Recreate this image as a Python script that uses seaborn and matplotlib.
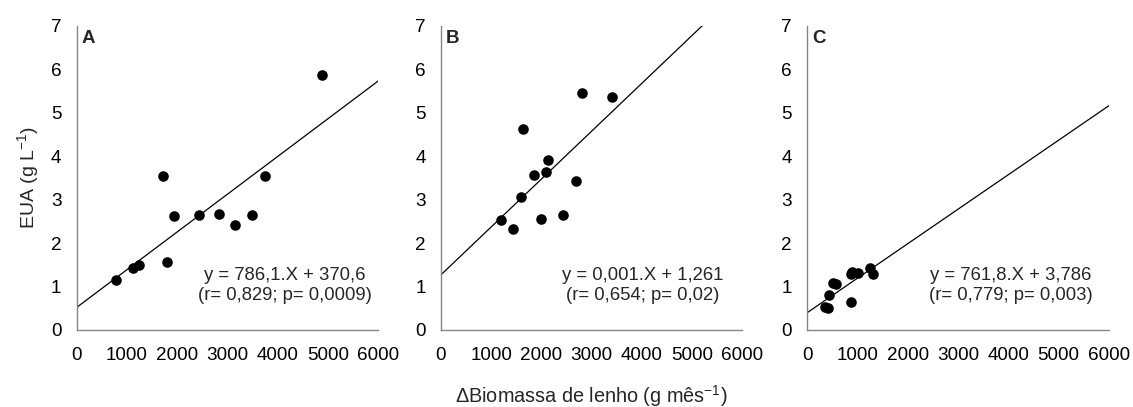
import numpy as np
import pandas as pd
import matplotlib
matplotlib.use("Agg")
import matplotlib.pyplot as plt
import seaborn as sns

# ---- data ----
panels = ["A", "B", "C"]

a_x = [776, 1114, 1246, 1724, 1797, 1943, 2433, 2831, 3149, 3494, 3746, 4880]
a_y = [1.15, 1.43, 1.50, 3.54, 1.56, 2.62, 2.64, 2.66, 2.42, 2.64, 3.54, 5.87]

b_x = [1200, 1425, 1598, 1631, 1856, 1989, 2088, 2135, 2420, 2692, 2811, 3408]
b_y = [2.53, 2.32, 3.05, 4.62, 3.57, 2.56, 3.63, 3.90, 2.65, 3.42, 5.46, 5.35]

c_x = [352, 405, 437, 505, 570, 863, 883, 860, 1014, 1247, 1300]
c_y = [0.52, 0.51, 0.80, 1.07, 1.05, 0.64, 1.34, 1.29, 1.30, 1.42, 1.28]

# fitted line (intercept, slope) as drawn in the reference
a_line = (0.52, 0.000868)
b_line = (1.27, 0.001102)
c_line = (0.40, 0.000793)

equations = [
    "y = 786,1.X + 370,6\n(r= 0,829; p= 0,0009)",
    "y = 0,001.X + 1,261\n(r= 0,654; p= 0,02)",
    "y = 761,8.X + 3,786\n(r= 0,779; p= 0,003)",
]
eq_x = [4150, 4020, 4050]

x_ticks = [0, 1000, 2000, 3000, 4000, 5000, 6000]
y_ticks = [0, 1, 2, 3, 4, 5, 6, 7]

sns.set_theme(style="white")
plt.rcParams["font.family"] = ["Liberation Sans", "DejaVu Sans"]
plt.rcParams["mathtext.fontset"] = "custom"
plt.rcParams["mathtext.rm"] = "Liberation Sans"
plt.rcParams["mathtext.it"] = "Liberation Sans"

fig = plt.figure(figsize=(11.33, 4.07), dpi=100)
W, H = 1133, 407
lefts = [76.7, 441.0, 807.3]
ax_w = 301.5
bottom_px, top_px = 330, 25.7

datasets = [(a_x, a_y, a_line), (b_x, b_y, b_line), (c_x, c_y, c_line)]
axes = []
spine_col = "#858585"
for i, (xs, ys, (b0, b1)) in enumerate(datasets):
    ax = fig.add_axes([lefts[i] / W, (H - bottom_px) / H, ax_w / W, (bottom_px - top_px) / H])
    axes.append(ax)
    lx = np.array([0, 6000])
    sns.lineplot(x=lx, y=b0 + b1 * lx, ax=ax, color="black", linewidth=0.9)
    sns.scatterplot(x=xs, y=ys, ax=ax, color="black", s=58, edgecolor="black", linewidth=0, zorder=3)
    ax.set_xlim(0, 6000)
    ax.set_ylim(0, 7)
    ax.set_xticks(x_ticks)
    ax.set_yticks(y_ticks)
    ax.set_xticklabels([str(t) for t in x_ticks])
    ax.set_yticklabels([str(t) for t in y_ticks])
    for s in ["top", "right"]:
        ax.spines[s].set_visible(False)
    for s in ["left", "bottom"]:
        ax.spines[s].set_color(spine_col)
        ax.spines[s].set_linewidth(1.0)
    ax.tick_params(axis="both", direction="out", length=3.5, width=1.0, color=spine_col,
                   labelsize=13.6, labelcolor="black")
    ax.tick_params(axis="y", pad=7.5)
    ax.tick_params(axis="x", pad=8.5)
    ax.text(100, 6.70, panels[i], fontsize=13.5, fontweight="bold", ha="left", va="center")
    ax.text(eq_x[i], 1.02, equations[i], fontsize=13.3, ha="center", va="center", linespacing=1.2)
    ax.set_xlabel("")
    ax.set_ylabel("")

axes[0].set_ylabel("EUA (g L$^{-1}$)", fontsize=14, labelpad=7)
fig.text(591.8 / W, 1 - 396 / H, "ΔBiomassa de lenho (g mês$^{-1}$)", fontsize=14.3, ha="center", va="center")

fig.savefig("out.png", dpi=100)
